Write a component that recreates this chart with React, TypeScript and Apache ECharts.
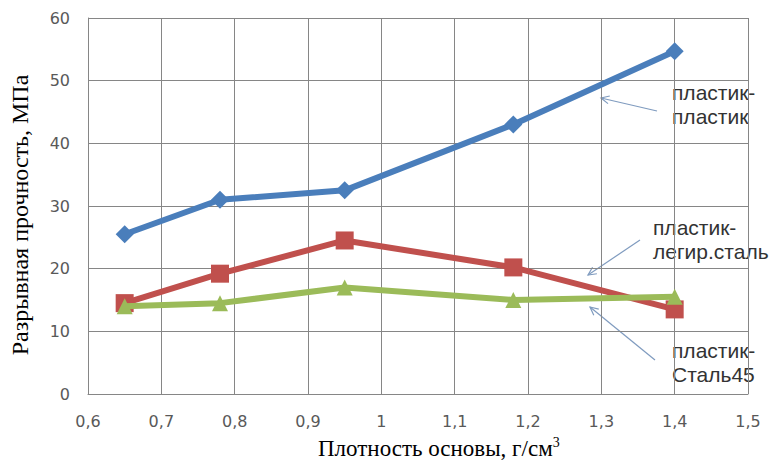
import React, { useEffect, useRef } from "react";
import * as echarts from "echarts";

const density = [0.65, 0.78, 0.95, 1.18, 1.4];
const plasticPlastic = [25.5, 31, 32.5, 43, 54.7];
const plasticAlloySteel = [14.5, 19.2, 24.5, 20.2, 13.5];
const plasticSteel45 = [14, 14.5, 17, 15, 15.5];

const seriesNames = ["пластик-пластик", "пластик-легир.сталь", "пластик-Сталь45"];
const annotationTexts = ["пластик-\nпластик", "пластик-\nлегир.сталь", "пластик-\nСталь45"];
const yAxisTitle = "Разрывная прочность, МПа";
const xAxisTitle = "Плотность основы, г/см";

const pair = (ys: number[]) => density.map((x, i) => [x, ys[i]]);

export default function App() {
  const ref = useRef<HTMLDivElement>(null);
  useEffect(() => {
    if (!ref.current) return;
    const chart = echarts.init(ref.current, null, { renderer: "svg" });
    const tickFont = { fontFamily: "DejaVu Sans", fontSize: 16, color: "#595959" };
    const labelFont = { fontFamily: "Liberation Sans", fontSize: 21, lineHeight: 24 };
    const arrowStyle = { stroke: "#7f9bbf", lineWidth: 1.2 };
    const arrow = (x1: number, y1: number, x2: number, y2: number) => {
      const ang = Math.atan2(y1 - y2, x1 - x2);
      const L = 9, a = 0.45;
      return [
        { type: "line", shape: { x1, y1, x2, y2 }, style: arrowStyle },
        {
          type: "polyline",
          shape: {
            points: [
              [x2 + L * Math.cos(ang + a), y2 + L * Math.sin(ang + a)],
              [x2, y2],
              [x2 + L * Math.cos(ang - a), y2 + L * Math.sin(ang - a)],
            ],
          },
          style: { ...arrowStyle, fill: "none" },
        },
      ];
    };
    chart.setOption({
      animation: false,
      backgroundColor: "#ffffff",
      grid: { left: 88, right: 31, top: 18, bottom: 76 },
      xAxis: {
        type: "value",
        min: 0.6,
        max: 1.5,
        interval: 0.1,
        axisLine: { show: true, lineStyle: { color: "#868686" } },
        axisTick: { show: false },
        splitLine: { show: true, lineStyle: { color: "#868686", width: 1 } },
        axisLabel: {
          ...tickFont,
          margin: 19,
          formatter: (v: number) => String(Math.round(v * 10) / 10).replace(".", ","),
        },
      },
      yAxis: {
        type: "value",
        min: 0,
        max: 60,
        interval: 10,
        axisLine: { show: true, lineStyle: { color: "#868686" } },
        axisTick: { show: false },
        splitLine: { show: true, lineStyle: { color: "#868686", width: 1 } },
        axisLabel: { ...tickFont, margin: 18 },
      },
      series: [
        {
          name: seriesNames[0],
          type: "line",
          data: pair(plasticPlastic),
          symbol: "diamond",
          symbolSize: 18,
          lineStyle: { width: 6, color: "#4a7ebb" },
          itemStyle: { color: "#4a7ebb" },
          z: 3,
        },
        {
          name: seriesNames[1],
          type: "line",
          data: pair(plasticAlloySteel),
          symbol: "rect",
          symbolSize: 18,
          lineStyle: { width: 6, color: "#c0504d" },
          itemStyle: { color: "#c0504d" },
          z: 2,
        },
        {
          name: seriesNames[2],
          type: "line",
          data: pair(plasticSteel45),
          symbol: "triangle",
          symbolSize: 16,
          lineStyle: { width: 6, color: "#9bbb59" },
          itemStyle: { color: "#9bbb59" },
          z: 4,
        },
      ],
      graphic: [
        { type: "text", x: 672, y: 80, style: { text: annotationTexts[0], ...labelFont, fill: "#333333" } },
        { type: "text", x: 653, y: 215, style: { text: annotationTexts[1], ...labelFont, fill: "#333333" } },
        { type: "text", x: 672, y: 338, style: { text: annotationTexts[2], ...labelFont, fill: "#333333" } },
        ...arrow(657, 111, 601, 98),
        ...arrow(640, 240, 588, 275),
        ...arrow(655, 360, 590, 307),
        {
          type: "text",
          x: 20,
          y: 215,
          rotation: Math.PI / 2,
          style: {
            text: yAxisTitle,
            fontFamily: "Liberation Serif",
            fontSize: 24,
            fill: "#000000",
            align: "center",
            verticalAlign: "middle",
          },
        },
        {
          type: "text",
          x: 318,
          y: 435,
          style: {
            text: xAxisTitle + "{sup|3}",
            fontFamily: "Liberation Serif",
            fontSize: 23,
            fill: "#000000",
            rich: {
              sup: { fontFamily: "Liberation Serif", fontSize: 14, verticalAlign: "top", padding: [0, 0, 12, 0], fill: "#000000" },
            },
          },
        },
      ],
    });
    return () => chart.dispose();
  }, []);
  return <div ref={ref} style={{ width: 779, height: 470, position: "absolute", left: 0, top: 0 }} />;
}
